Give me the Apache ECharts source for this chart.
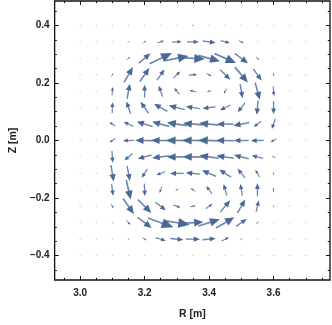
<!DOCTYPE html>
<html><head><meta charset="utf-8">
<script src="https://cdn.jsdelivr.net/npm/echarts@6/dist/echarts.min.js"></script>
<style>html,body{margin:0;padding:0;background:#fff}#c{width:332px;height:325px}</style>
</head><body><div id="c"></div>
<script>
// sample points
const R_VALUES = [3.00,3.05,3.10,3.15,3.20,3.25,3.30,3.35,3.40,3.45,3.50,3.55,3.60,3.65,3.70];
const Z_VALUES = [0.4,0.3429,0.2857,0.2286,0.1714,0.1143,0.0571,0,-0.0571,-0.1143,-0.1714,-0.2286,-0.2857,-0.3429,-0.4];
// field components (rows follow Z_VALUES, columns follow R_VALUES)
const U_ROWS = [
  [0.5,0.5,0.5,0.6,0.8,1,1.2,1.3,1.2,1,0.8,0.6,0.5,0.5,0.5],
  [0.5,0.5,0.6,1.2,2.4,5.6,8,10,10.9,7.7,4.3,0.8,0.5,0.5,0.5],
  [0.5,0.5,0.7,2.8,10,18.9,19.6,20,18.4,18.3,11.3,2.8,0.6,0.5,0.5],
  [0.5,0.5,1.4,7.5,8,6.3,5.7,7,4.3,8.6,11,7,0.5,0.4,0.4],
  [0.4,0.4,0.6,2.3,0,-3.4,-4.5,-5.8,-3.9,-2.5,2,3.9,0.5,0.2,0],
  [0,-0.2,0.3,-3.4,-6.9,-11.3,-13.6,-11.9,-10.9,-8.9,-6.2,-1,0,0,0],
  [-0.4,-0.6,-4.9,-8.2,-13.4,-14.5,-16.8,-16.9,-16.7,-14,-13.5,-6.4,-3,-0.3,0],
  [-0.5,-0.8,-4.9,-9.3,-15.7,-16,-18.3,-18.3,-18.3,-15.3,-12.5,-11,-5,-0.5,-0.4],
  [-0.4,-0.6,0.7,-6.9,-11.5,-14.5,-16.8,-17,-16.6,-14.9,-12.6,-9.7,-3,-0.4,-0.4],
  [0,0.2,2.4,2.3,-4.9,-7.5,-11.5,-12,-12,-10,-6.4,-3.5,-0.3,0,0],
  [0,0.2,1.3,3.8,0.4,-2,-3,-4.3,-4.8,-2.6,-1.7,0,0,0,0],
  [0,0.5,2.2,9.2,11.3,8.8,6.2,5,5.6,8.4,6.5,2.2,0.3,0,0],
  [0.4,0.5,1,3.2,12,21.6,21.7,17.5,18.2,15.6,9,2.1,0.6,0.4,0.4],
  [0.4,0.5,0.6,1.2,3.5,8.6,11,12,11,6.3,1.5,0.6,0.5,0.5,0.5],
  [0.5,0.5,0.5,0.5,0.7,0.9,1.1,1.2,1.1,0.9,0.7,0.5,0.5,0.5,0.5]
];
const W_ROWS = [
  [0,0,0,0,0,0,0,0,0,0,0,0,0,0,0],
  [0,0,0.3,1.2,2.4,2,0.5,0,-1.5,-2.1,-2.5,-0.8,-0.2,0,0],
  [0,0.2,0.7,2.8,8.4,9.2,3.8,-1,-4.9,-8.1,-8.2,-2.8,-0.6,-0.2,0],
  [0,0.4,3,13,11.5,9,5.7,0.6,-2.5,-8.3,-13,-9.7,-3,-0.4,-0.2],
  [0,0.6,7,12.8,11,9.4,5.4,1.3,-0.8,-4.3,-11.8,-14.5,-8,-0.6,-0.5],
  [-0.4,0.6,9,10.5,9.8,6.5,3.4,1.7,-1.3,-4.5,-7.9,-12,-11,-0.6,-0.5],
  [0,0.3,3.4,3.8,4.1,3.9,2.7,1.5,1.7,0.3,-2.7,-4.8,-8.5,-0.5,-0.4],
  [0,0,-3.4,-0.3,0.3,0.3,0.3,0.3,0.5,0.3,0,-0.3,-3,0,0],
  [0,-0.3,-10,-5.8,-3.3,-2,0,0.5,2.3,2.2,3.1,2.3,1.2,0.3,0],
  [0.4,-0.6,-13.8,-12.8,-7.5,-2.7,0,1.2,5.1,6.5,7.7,6,2.5,0.5,0.4],
  [0.4,-0.6,-10,-16.6,-10.5,-5.3,-0.3,2.5,6.4,9.7,9.8,11,4,0.5,0.4],
  [-0.3,-0.6,-4,-13.1,-11.3,-6.6,-2.3,0.8,4.2,10,11.3,9.7,1.5,0.4,0.3],
  [0,-0.3,-1,-3.8,-9,-7.9,-3.4,1,5.6,9,6.3,2.1,0.5,0,0],
  [0,0,-0.3,-0.9,-2,-2.6,-1,0,1,3,1,0.4,0,0,0],
  [0,0,0,0,0,0,0,0,0,0,0,0,0,0,0]
];
// axis ticks
const R_MAJOR = [3.0,3.2,3.4,3.6];
const R_MINOR = [2.95,3.05,3.1,3.15,3.25,3.3,3.35,3.45,3.5,3.55,3.65,3.7,3.75];
const Z_MAJOR = [-0.4,-0.2,0,0.2,0.4];
const Z_MINOR = [-0.45,-0.35,-0.3,-0.25,-0.15,-0.1,-0.05,0.05,0.1,0.15,0.25,0.3,0.35,0.45];
const R_MIN = 2.921, R_MAX = 3.775, Z_MIN = -0.485, Z_MAX = 0.485;

const ARROW_COLOR = '#4a6898';
const DOT_COLOR = '#b4bfd2';
const ARROW_PX = 1.18;
const FONT = '"Liberation Sans", Arial, sans-serif';

const data = [];
Z_VALUES.forEach((z, j) => {
  R_VALUES.forEach((r, i) => {
    data.push([r, z, U_ROWS[j][i], W_ROWS[j][i]]);
  });
});

function renderItem(params, api) {
  const c = api.coord([api.value(0), api.value(1)]);
  const dx = api.value(2) * ARROW_PX, dy = -api.value(3) * ARROW_PX;
  const L = Math.hypot(dx, dy);
  if (L < 1.5) {
    return {type: 'circle', shape: {cx: c[0], cy: c[1], r: 0.65}, style: {fill: DOT_COLOR}};
  }
  const ux = dx / L, uy = dy / L, nx = -uy, ny = ux;
  const tx = c[0] + dx / 2, ty = c[1] + dy / 2;
  const sx = c[0] - dx / 2, sy = c[1] - dy / 2;
  const hl = L * (L < 6 ? 0.5 : 0.44), hw = L * 0.19;
  const bx = tx - ux * hl, by = ty - uy * hl;
  const lw = Math.max(0.9, Math.min(1.7, 0.7 + L * 0.05));
  return {type: 'group', children: [
    {type: 'line', shape: {x1: sx, y1: sy, x2: bx + ux * 0.6, y2: by + uy * 0.6},
      style: {stroke: ARROW_COLOR, lineWidth: lw, opacity: 0.8}},
    {type: 'polygon', shape: {points: [[tx, ty], [bx + nx * hw, by + ny * hw], [bx - nx * hw, by - ny * hw]]},
      style: {fill: ARROW_COLOR}}
  ]};
}

const fmt = v => (v < 0 ? '\u2212' : '') + Math.abs(v).toFixed(1);
const labelStyle = {color: '#222', fontSize: 10, fontWeight: 'bold', fontFamily: FONT};

function xAx(pos, vals, len, withLabel) {
  const a = {type: 'value', position: pos, min: R_MIN, max: R_MAX,
    axisLine: {show: false, onZero: false}, splitLine: {show: false},
    axisTick: {show: true, inside: true, length: len, customValues: vals, lineStyle: {color: '#111', width: 1}},
    axisLabel: {show: withLabel, customValues: vals, formatter: fmt, margin: 8, ...labelStyle}};
  if (withLabel) {
    Object.assign(a, {name: 'R [m]', nameLocation: 'middle', nameGap: 29,
      nameTextStyle: {color: '#222', fontSize: 10.5, fontWeight: 'bold', fontFamily: FONT}});
  }
  return a;
}
function yAx(pos, vals, len, withLabel) {
  const a = {type: 'value', position: pos, min: Z_MIN, max: Z_MAX,
    axisLine: {show: false, onZero: false}, splitLine: {show: false},
    axisTick: {show: true, inside: true, length: len, customValues: vals, lineStyle: {color: '#111', width: 1}},
    axisLabel: {show: withLabel, customValues: vals, formatter: fmt, margin: 5, ...labelStyle}};
  if (withLabel) {
    Object.assign(a, {name: 'Z [m]', nameLocation: 'middle', nameGap: 35, nameRotate: 90,
      nameTextStyle: {color: '#222', fontSize: 10.5, fontWeight: 'bold', fontFamily: FONT}});
  }
  return a;
}

const chart = echarts.init(document.getElementById('c'), null, {renderer: 'canvas'});
chart.setOption({
  animation: false,
  backgroundColor: '#fff',
  grid: {left: 46, right: 2, top: 1, bottom: 39, show: true, borderColor: '#111', borderWidth: 1.3, backgroundColor: '#fff'},
  xAxis: [xAx('bottom', R_MAJOR, 4, true), xAx('bottom', R_MINOR, 2.2, false),
          xAx('top', R_MAJOR, 4, false), xAx('top', R_MINOR, 2.2, false)],
  yAxis: [yAx('left', Z_MAJOR, 4, true), yAx('left', Z_MINOR, 2.2, false),
          yAx('right', Z_MAJOR, 4, false), yAx('right', Z_MINOR, 2.2, false)],
  series: [{
    type: 'custom', xAxisIndex: 0, yAxisIndex: 0, clip: false,
    renderItem: renderItem, data: data, encode: {x: 0, y: 1}
  }]
});
</script>
</body></html>
